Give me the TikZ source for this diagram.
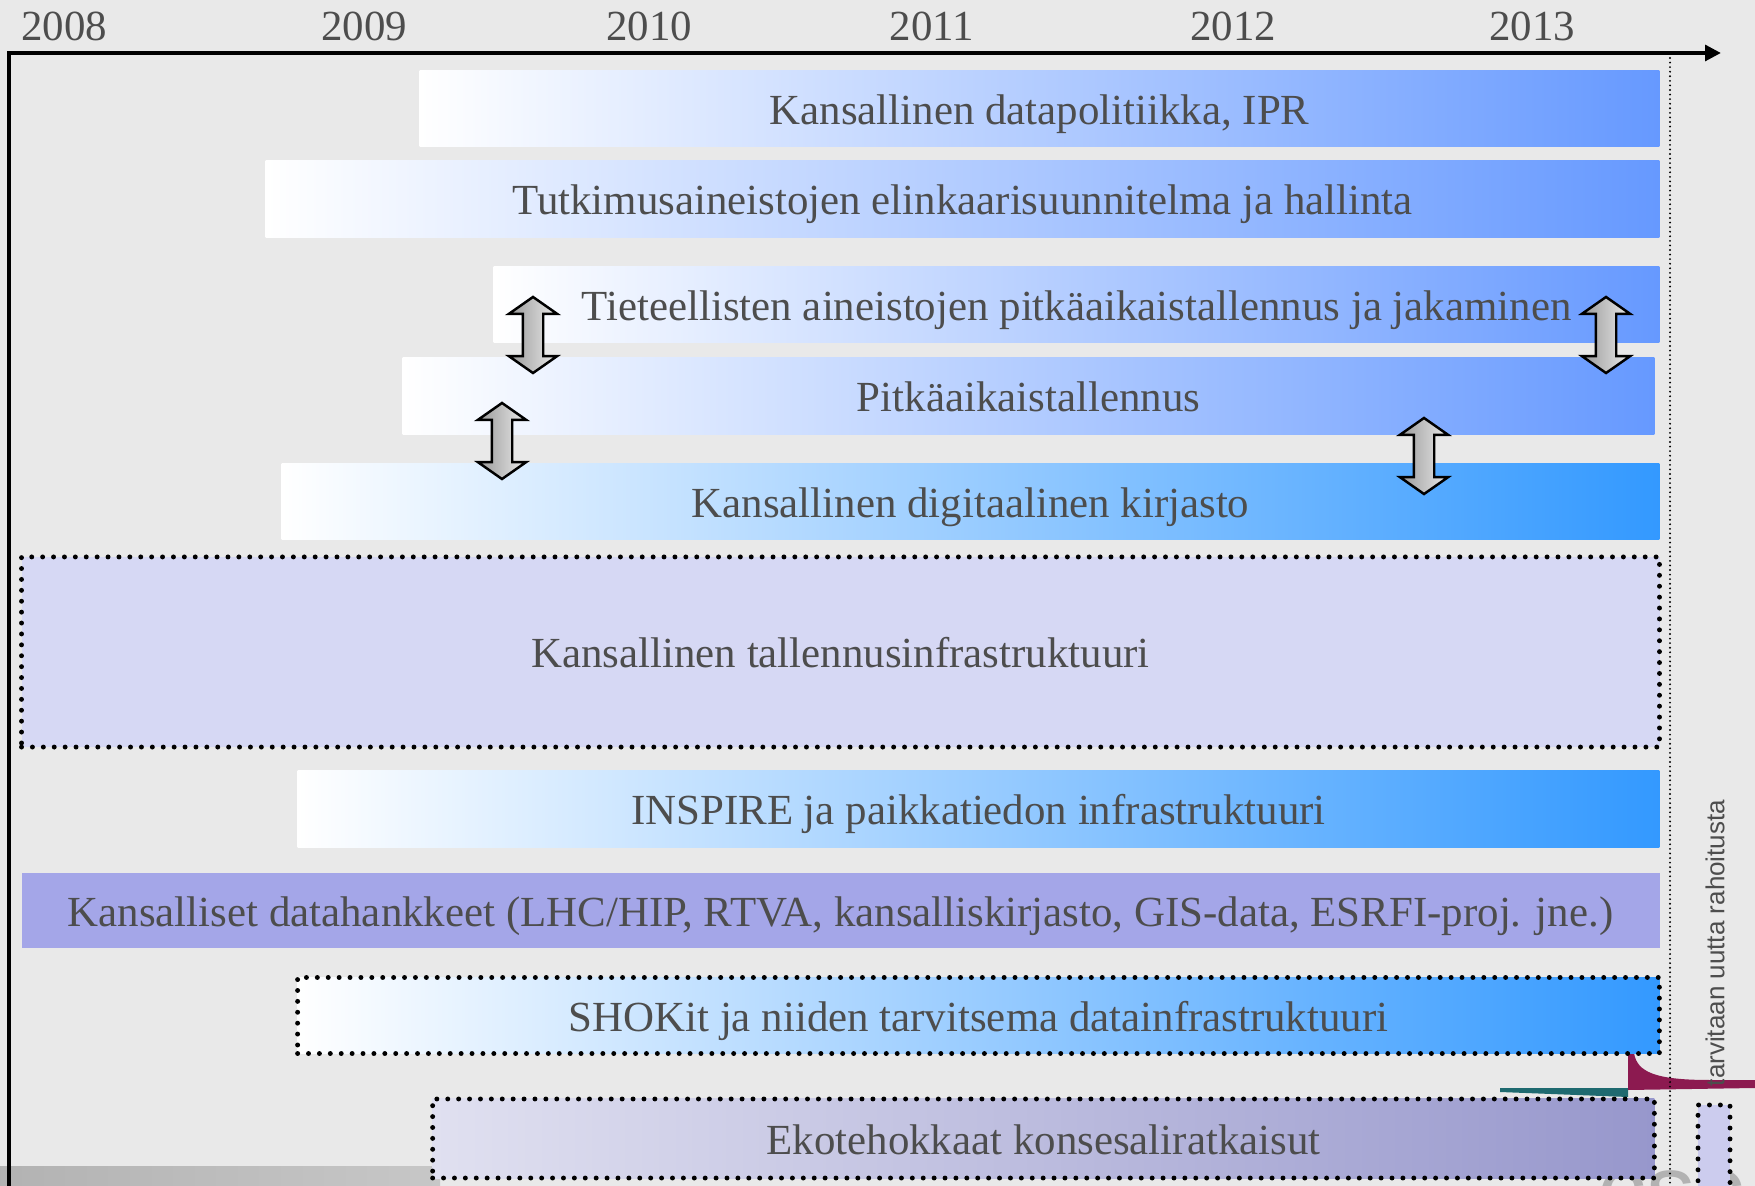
\documentclass[tikz,border=0pt]{standalone}
\usepackage{fontspec}
\setmainfont{Liberation Serif}
\setsansfont{Liberation Sans}
\usepackage{tikz}
\usetikzlibrary{shapes.arrows,arrows.meta}
\definecolor{bggray}{HTML}{E9E9E9}
\definecolor{txtgray}{HTML}{4D4D4D}
\definecolor{barblue}{HTML}{6699FF}
\definecolor{barsky}{HTML}{3399FF}
\definecolor{tallfill}{HTML}{D6D8F4}
\definecolor{datafill}{HTML}{A4A6E8}
\definecolor{ecoleft}{HTML}{E0E0F0}
\definecolor{ecoright}{HTML}{9797CC}
\definecolor{legendlav}{HTML}{CCCCEE}
\definecolor{swoosh}{HTML}{8C1A50}
\definecolor{tealline}{HTML}{1F6A70}

\begin{document}
\begin{tikzpicture}[x=0.01cm,y=-0.01cm,
    every node/.style={text=txtgray, font=\fontsize{12.2pt}{14pt}\selectfont},
    bar/.style={minimum height=0.76cm, inner sep=0pt, text height=9pt, text depth=0pt,
      left color=white, right color=barblue},
    skybar/.style={bar, right color=barsky},
    dotbox/.style={draw=black, line width=1.4pt, line cap=round, dash pattern=on 0pt off 3.1pt},
    dblarrow/.style={double arrow, shape border rotate=90, draw=black, line width=0.7pt,
      left color=black!40, right color=black!8, minimum height=0.76cm, inner sep=0.09cm,
      text height=0pt, text depth=0pt,
      double arrow head extend=0.14cm, double arrow tip angle=110},
    yearlbl/.style={anchor=base}]
  \useasboundingbox[fill=bggray] (0,0) rectangle (1755,1186);

  % footer remains
  \fill[left color=black!30, right color=black!22] (0,1166) rectangle (440,1186);
  \node[anchor=north west, text=black!30, font=\sffamily\fontsize{28pt}{28pt}\selectfont] (logotxt) at (1585,1158) {csc};
  \fill[tealline] (1500,1088) -- (1628,1088) -- (1628,1097) -- (1500,1092) -- cycle;
  \fill[swoosh] (1628,1053) -- (1634,1053) .. controls (1637,1072) and (1655,1080) .. (1710,1080)
    -- (1755,1080) -- (1755,1088) -- (1628,1090) -- cycle;

  % years
  \foreach \yr/\xx in {2008/64,2009/364,2010/649,2011/932,2012/1233,2013/1532}
    \node[yearlbl] (y\yr) at (\xx,41) {\yr};

  % bars
  \node[bar, minimum width=12.39cm] (datapol) at (1039.5,108.5) {Kansallinen datapolitiikka, IPR};
  \node[bar, minimum width=13.93cm] (elinkaari) at (962.5,199) {Tutkimusaineistojen elinkaarisuunnitelma ja hallinta};
  \node[bar, minimum width=11.65cm] (tieteell) at (1076.5,304.5) {Tieteellisten aineistojen pitkäaikaistallennus ja jakaminen};
  \node[bar, minimum width=12.51cm] (pitka) at (1028.5,396) {Pitkäaikaistallennus};
  \node[skybar, minimum width=13.77cm] (kirjasto) at (970.5,501.5) {Kansallinen digitaalinen kirjasto};
  \node[dotbox, fill=tallfill, inner sep=0pt, text height=9pt, text depth=0pt, minimum width=16.37cm, minimum height=1.90cm] (tallennus) at (840.5,652) {Kansallinen tallennusinfrastruktuuri};
  \node[skybar, minimum width=13.61cm] (inspire) at (978.5,809) {INSPIRE ja paikkatiedon infrastruktuuri};
  \node[fill=datafill, inner sep=0pt, text height=9pt, text depth=0pt, minimum width=16.37cm, minimum height=0.75cm] (datahank) at (840.5,910.5) {Kansalliset datahankkeet (LHC/HIP, RTVA, kansalliskirjasto, GIS-data, ESRFI-proj. jne.)};
  \node[skybar, dotbox, minimum width=13.61cm] (shokit) at (978.5,1015.5) {SHOKit ja niiden tarvitsema datainfrastruktuuri};
  \node[bar, dotbox, left color=ecoleft, right color=ecoright, minimum width=12.21cm, minimum height=0.79cm] (ekotehok) at (1043.5,1138.5) {Ekotehokkaat konsesaliratkaisut};

  % links between bars
  \node[dblarrow] (linkA) at (533,335) {};
  \node[dblarrow] (linkB) at (502,441) {};
  \node[dblarrow] (linkC) at (1606,335) {};
  \node[dblarrow] (linkD) at (1424,456) {};

  % time axis
  \coordinate (origin) at (9,53);
  \coordinate (timeend) at (1721,53);
  \coordinate (axisbot) at (9,1192);
  \draw[line width=1.2pt, -{Triangle[length=4.5pt,width=4.4pt]}] (axisbot) -- (origin) -- (timeend);

  \coordinate (limtop) at (1670,58);
  \coordinate (limbot) at (1670,1190);
  \draw[line width=0.6pt, line cap=round, dash pattern=on 0pt off 1.3pt] (limtop) -- (limbot);

  % legend
  \node[dotbox, fill=legendlav, inner sep=0pt, minimum width=0.32cm, minimum height=1.0cm] (newfund) at (1714,1155) {};
  \node[rotate=90, font=\sffamily\fontsize{7.4pt}{9pt}\selectfont] (fundlbl) at (1715,943) {tarvitaan uutta rahoitusta};
\end{tikzpicture}
\end{document}
